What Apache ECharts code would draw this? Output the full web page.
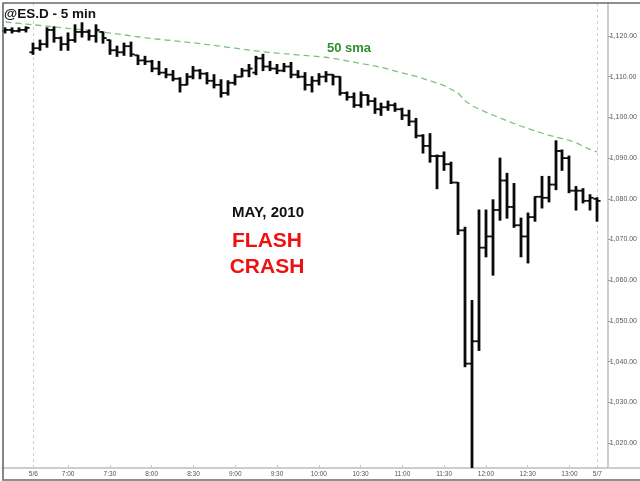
<!DOCTYPE html>
<html><head><meta charset="utf-8">
<script src="https://cdn.jsdelivr.net/npm/echarts@6/dist/echarts.min.js"></script>
<style>html,body{margin:0;padding:0;background:#fff}#c{width:640px;height:481px}</style>
</head><body><div id="c"></div>
<script>
const categories = [
'5/5 13:00','5/5 13:05','5/5 13:10','5/5 13:15',
'5/6 6:35','5/6 6:40','5/6 6:45','5/6 6:50','5/6 6:55',
'5/6 7:00','5/6 7:05','5/6 7:10','5/6 7:15','5/6 7:20','5/6 7:25','5/6 7:30','5/6 7:35','5/6 7:40','5/6 7:45','5/6 7:50','5/6 7:55',
'5/6 8:00','5/6 8:05','5/6 8:10','5/6 8:15','5/6 8:20','5/6 8:25','5/6 8:30','5/6 8:35','5/6 8:40','5/6 8:45','5/6 8:50','5/6 8:55',
'5/6 9:00','5/6 9:05','5/6 9:10','5/6 9:15','5/6 9:20','5/6 9:25','5/6 9:30','5/6 9:35','5/6 9:40','5/6 9:45','5/6 9:50','5/6 9:55',
'5/6 10:00','5/6 10:05','5/6 10:10','5/6 10:15','5/6 10:20','5/6 10:25','5/6 10:30','5/6 10:35','5/6 10:40','5/6 10:45','5/6 10:50','5/6 10:55',
'5/6 11:00','5/6 11:05','5/6 11:10','5/6 11:15','5/6 11:20','5/6 11:25','5/6 11:30','5/6 11:35','5/6 11:40','5/6 11:45','5/6 11:50','5/6 11:55',
'5/6 12:00','5/6 12:05','5/6 12:10','5/6 12:15','5/6 12:20','5/6 12:25','5/6 12:30','5/6 12:35','5/6 12:40','5/6 12:45','5/6 12:50','5/6 12:55',
'5/6 13:00','5/6 13:05','5/6 13:10','5/6 13:15',
'5/7 6:35'
];
const opens = [
1121.25,1121.5,1121.25,1121.5,1116.0,1117.0,1118.0,1121.5,1119.5,1118.0,
1119.0,1121.0,1121.0,1120.0,1121.0,1119.0,1116.5,1116.0,1117.5,1115.25,
1114.0,1113.75,1112.0,1111.0,1110.5,1109.5,1108.0,1110.0,1111.5,1110.75,
1109.0,1108.0,1106.0,1108.5,1110.0,1111.5,1111.0,1114.5,1112.5,1112.0,
1111.5,1112.5,1110.5,1110.0,1108.0,1109.0,1110.0,1110.5,1110.0,1106.0,
1105.0,1103.0,1105.5,1104.0,1102.0,1102.5,1103.0,1102.0,1100.5,1099.0,
1095.5,1093.0,1090.5,1090.5,1088.5,1084.0,1072.25,1039.5,1045.0,1068.0,
1070.75,1077.25,1084.5,1078.0,1073.5,1070.75,1075.5,1080.5,1080.25,1083.5,
1091.75,1090.0,1082.0,1082.0,1079.5,1080.0];
const highs = [
1122.0,1122.0,1122.0,1122.25,1118.25,1119.0,1122.0,1122.25,1119.75,1120.75,
1122.75,1123.25,1121.5,1122.75,1121.0,1119.0,1117.5,1118.25,1118.5,1115.25,
1115.0,1114.0,1113.75,1112.0,1111.5,1109.75,1110.75,1112.5,1111.75,1111.0,
1110.5,1109.25,1109.0,1110.5,1112.0,1113.0,1115.0,1115.5,1113.75,1113.0,
1113.25,1113.5,1111.5,1111.0,1110.0,1110.75,1111.25,1110.5,1110.0,1106.25,
1106.0,1106.25,1105.5,1104.75,1103.5,1104.0,1103.5,1102.25,1101.75,1099.75,
1095.75,1096.0,1090.75,1091.5,1089.0,1084.0,1073.0,1055.0,1077.25,1077.25,
1079.75,1090.0,1086.25,1083.75,1075.25,1076.5,1080.5,1085.5,1085.5,1094.25,
1092.0,1090.5,1083.0,1082.5,1081.0,1080.25];
const lows = [
1120.75,1120.75,1121.0,1121.0,1115.5,1116.5,1117.25,1118.5,1116.5,1116.5,
1118.5,1119.75,1119.0,1118.5,1118.25,1115.5,1115.0,1115.25,1115.0,1113.0,
1113.0,1111.25,1110.5,1109.75,1109.0,1106.25,1108.0,1109.5,1109.5,1108.25,
1107.25,1105.0,1105.5,1108.0,1110.0,1110.0,1110.5,1111.5,1111.5,1110.75,
1111.25,1109.75,1109.75,1106.75,1106.25,1108.0,1108.75,1108.0,1105.5,1104.25,
1102.5,1102.5,1103.0,1101.0,1100.5,1101.75,1101.5,1099.5,1098.0,1095.0,
1091.25,1089.0,1082.5,1087.0,1083.75,1071.25,1038.75,1010.0,1042.75,1065.75,
1061.25,1074.75,1075.25,1073.0,1065.75,1064.25,1074.5,1077.75,1079.25,1082.25,
1087.0,1081.5,1077.25,1079.0,1077.25,1074.5];
const closes = [
1121.5,1121.25,1121.5,1122.0,1117.0,1118.0,1121.5,1119.5,1118.0,1119.0,
1121.0,1121.0,1120.0,1121.5,1119.5,1116.5,1116.0,1117.5,1115.5,1114.0,
1113.75,1112.0,1111.0,1110.5,1109.5,1108.0,1110.0,1111.5,1110.75,1109.0,
1108.0,1106.0,1108.5,1110.0,1111.5,1112.0,1114.5,1112.5,1112.0,1111.5,
1112.5,1110.5,1110.0,1108.0,1109.0,1110.0,1110.5,1110.0,1106.0,1105.0,
1103.0,1105.5,1104.0,1102.0,1102.5,1103.0,1102.0,1100.5,1099.0,1095.5,
1093.0,1090.5,1090.5,1088.5,1084.0,1072.25,1039.5,1045.0,1068.0,1070.75,
1077.25,1084.5,1078.0,1073.5,1070.75,1075.5,1080.5,1080.25,1083.5,1091.75,
1090.0,1082.0,1082.0,1079.5,1080.25,1079.5];
const sma50 = [
1123.44,1123.27,1123.1,1122.92,1122.75,1122.58,1122.4,1122.23,1122.05,1121.87,
1121.7,1121.52,1121.34,1121.16,1120.96,1120.73,1120.5,1120.28,1120.05,1119.82,
1119.59,1119.38,1119.2,1119.02,1118.85,1118.67,1118.49,1118.31,1118.13,1117.9,
1117.68,1117.45,1117.23,1117.0,1116.78,1116.55,1116.33,1116.1,1115.95,1115.8,
1115.65,1115.51,1115.36,1115.22,1115.07,1114.93,1114.78,1114.54,1114.22,1113.91,
1113.59,1113.27,1112.96,1112.64,1112.27,1111.83,1111.38,1110.94,1110.5,1110.06,
1109.54,1108.99,1108.43,1107.83,1106.91,1106.0,1104.1,1102.85,1102.07,1101.3,
1100.59,1099.9,1099.21,1098.52,1097.89,1097.31,1096.74,1096.17,1095.62,1095.21,
1094.79,1094.38,1093.73,1092.91,1092.09,1091.5];
const xTickLabels = ['5/6','7:00','7:30','8:00','8:30','9:00','9:30','10:00','10:30','11:00','11:30','12:00','12:30','13:00','5/7'];
const yTickValues = [1020,1030,1040,1050,1060,1070,1080,1090,1100,1110,1120];
const sessionStarts = ['5/6 6:35','5/7 6:35'];

const FONT = 'Arial, "Liberation Sans", Helvetica, sans-serif';
const axisCats = categories.concat(['']);
function xLabel(v){
  if(!v) return '';
  const p = v.split(' ');
  if(p[1]==='6:35') return p[0];
  if(p[0]==='5/6') return p[1];
  return '';
}
function showX(i, v){ return xTickLabels.indexOf(xLabel(v)) >= 0; }

const ohlc = categories.map((c,i)=>[i, opens[i], closes[i], lows[i], highs[i]]);

const chart = echarts.init(document.getElementById('c'), null, {renderer:'canvas'});
chart.setOption({
  animation:false,
  backgroundColor:'#ffffff',
  grid:{left:2, right:31, top:3, bottom:13, containLabel:false},
  xAxis:{
    type:'category', data:axisCats, boundaryGap:true,
    axisLine:{show:true, lineStyle:{color:'#bdbdbd', width:1.5}},
    axisTick:{show:true, inside:true, length:3, alignWithLabel:true, interval:showX, lineStyle:{color:'#c8c8c8'}},
    axisLabel:{show:true, interval:showX, formatter:xLabel, fontSize:6.5, color:'#555', margin:3, fontFamily:FONT},
    splitLine:{show:false}
  },
  yAxis:{
    type:'value', position:'right', min:1013.86, max:1128.11, scale:true,
    axisLine:{show:true, lineStyle:{color:'#bdbdbd', width:1.5}},
    axisTick:{show:true, length:3, customValues:yTickValues, lineStyle:{color:'#999'}},
    axisLabel:{show:true, customValues:yTickValues, fontSize:7, color:'#555', margin:2, fontFamily:FONT,
      formatter:v=>v.toLocaleString('en-US',{minimumFractionDigits:2, maximumFractionDigits:2})},
    splitLine:{show:false}
  },
  series:[
    {
      type:'line', name:'sessions', data:[], z:0, silent:true,
      markLine:{
        silent:true, z:0, symbol:['none','none'], label:{show:false},
        lineStyle:{color:'#cfcfcf', type:[3,3], width:1},
        data: sessionStarts.map(s=>({xAxis:s}))
      }
    },
    {
      type:'line', name:'50 sma', data:sma50, showSymbol:false, symbol:'none', smooth:false,
      lineStyle:{color:'#80c080', width:1.3, type:[6,4]}, z:2, silent:true
    },
    {
      type:'custom', name:'ES', data:ohlc, clip:true, z:5,
      encode:{x:0, y:[1,2,3,4]},
      renderItem:function(params, api){
        const x = api.value(0);
        const pO = api.coord([x, api.value(1)]);
        const pC = api.coord([x, api.value(2)]);
        const pL = api.coord([x, api.value(3)]);
        const pH = api.coord([x, api.value(4)]);
        const cx = Math.round(pH[0]);
        const col = '#0a0a0a';
        return {type:'group', children:[
          {type:'line', shape:{x1:cx, y1:pH[1]-0.5, x2:cx, y2:pL[1]+0.5}, style:{stroke:col, lineWidth:2.8}},
          {type:'line', shape:{x1:cx-3.6, y1:pO[1], x2:cx, y2:pO[1]}, style:{stroke:col, lineWidth:1.8}},
          {type:'line', shape:{x1:cx, y1:pC[1], x2:cx+3.6, y2:pC[1]}, style:{stroke:col, lineWidth:1.8}}
        ]};
      }
    }
  ],
  graphic:[
    {type:'rect', silent:true, z:50, shape:{x:3, y:3, width:700, height:477}, style:{fill:null, stroke:'#6a6a6a', lineWidth:1.6}},
    {type:'line', silent:true, z:50, shape:{x1:609, y1:468, x2:640, y2:468}, style:{stroke:'#bdbdbd', lineWidth:1.5}},
    {type:'text', silent:true, z:60, x:4, y:14, style:{text:'@ES.D - 5 min', font:'bold 13.5px '+FONT, fill:'#111', textVerticalAlign:'middle', textAlign:'left'}},
    {type:'text', silent:true, z:60, x:349, y:48, style:{text:'50 sma', font:'bold 13px '+FONT, fill:'#2f8f2a', textVerticalAlign:'middle', textAlign:'center'}},
    {type:'text', silent:true, z:60, x:268, y:213, style:{text:'MAY, 2010', font:'bold 15px '+FONT, fill:'#111', textVerticalAlign:'middle', textAlign:'center'}},
    {type:'text', silent:true, z:60, x:267, y:241, style:{text:'FLASH', font:'bold 21px '+FONT, fill:'#ee1111', textVerticalAlign:'middle', textAlign:'center'}},
    {type:'text', silent:true, z:60, x:267, y:267, style:{text:'CRASH', font:'bold 21px '+FONT, fill:'#ee1111', textVerticalAlign:'middle', textAlign:'center'}}
  ]
});
</script></body></html>
